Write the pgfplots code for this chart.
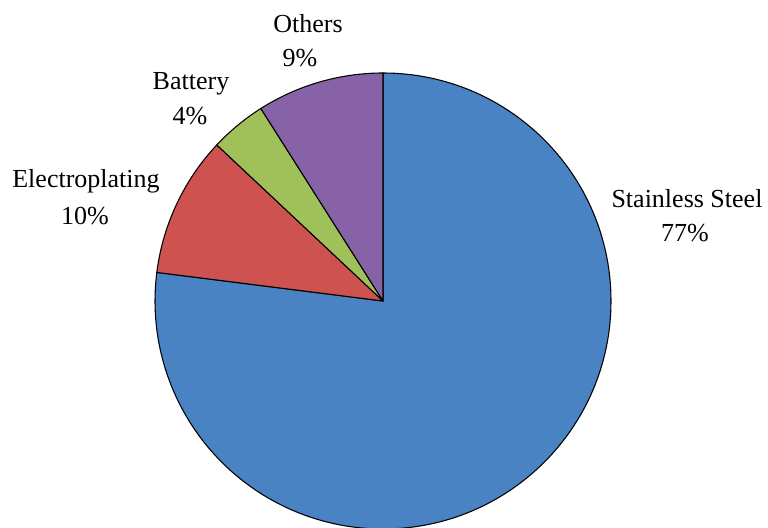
\documentclass[border=0pt]{standalone}
\usepackage{pgfplots}
\pgfplotsset{compat=1.18}
\usepackage{fontspec}
\setmainfont{Liberation Serif}
\definecolor{cSS}{HTML}{4A83C3}
\definecolor{cEP}{HTML}{CE5250}
\definecolor{cBA}{HTML}{A0C15A}
\definecolor{cOT}{HTML}{8762A7}
% slice table: centre (px), start angle, end angle, share in %
\pgfplotstableread{
x y a b pct
383 227 90 -187.2 77
}\tSS
\pgfplotstableread{
x y a b pct
383 227 172.8 136.8 10
}\tEP
\pgfplotstableread{
x y a b pct
383 227 136.8 122.4 4
}\tBA
\pgfplotstableread{
x y a b pct
383 227 122.4 90 9
}\tOT
\pgfplotsset{
  pieslice/.style={
    only marks, scatter, mark=text, text mark={},
    visualization depends on={\thisrow{a}\as\sa},
    visualization depends on={\thisrow{b}\as\sb},
    scatter/@pre marker code/.code={%
      \filldraw[fill=#1,draw=black,line width=0.8pt,line join=round]
        (0pt,0pt) -- (\sa:171pt) arc[start angle=\sa,end angle=\sb,radius=171pt] -- cycle;},
    scatter/@post marker code/.code={},
  }
}
\tikzset{lbl/.style={anchor=base, inner sep=0pt, font=\fontsize{19.5}{23}\selectfont}}
\begin{document}
\begin{tikzpicture}
\begin{axis}[
  x=0.75pt, y=0.75pt,
  xmin=0, xmax=768, ymin=0, ymax=528,
  hide axis, clip=false,
  point meta min=0, point meta max=1,
]
\addplot[pieslice=cSS] table {\tSS};
\addplot[pieslice=cEP] table {\tEP};
\addplot[pieslice=cBA] table {\tBA};
\addplot[pieslice=cOT] table {\tOT};
\node[lbl] at (axis cs:687,320) {Stainless Steel};
\node[lbl] at (axis cs:685,286) {77\%};
\node[lbl] at (axis cs:86,340) {Electroplating};
\node[lbl] at (axis cs:85,303) {10\%};
\node[lbl] at (axis cs:191,438) {Battery};
\node[lbl] at (axis cs:190,403) {4\%};
\node[lbl] at (axis cs:308,495) {Others};
\node[lbl] at (axis cs:300,461) {9\%};
\end{axis}
\pgfresetboundingbox
\path (0,0) rectangle (576pt,396pt);
\end{tikzpicture}
\end{document}
